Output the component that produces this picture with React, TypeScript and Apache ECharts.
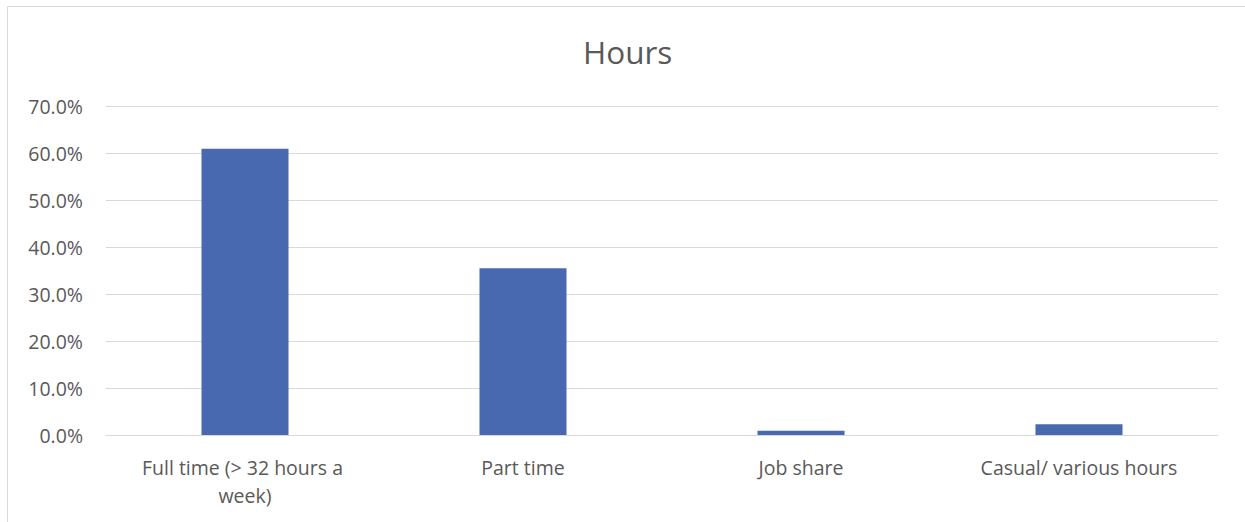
import React, { useEffect, useRef } from "react";
import * as echarts from "echarts";

const categories = ["Full time (> 32 hours a week)", "Part time", "Job share", "Casual/ various hours"];
const values = [60.9, 35.5, 0.9, 2.3];
const yTicks = { min: 0, max: 70, interval: 10 };

export default function App() {
  const ref = useRef<HTMLDivElement>(null);
  useEffect(() => {
    const chart = echarts.init(ref.current!, null, { renderer: "svg" });
    chart.setOption({
      animation: false,
      backgroundColor: "#ffffff",
      title: {
        text: "Hours",
        left: 578,
        top: 30,
        textStyle: { fontFamily: "Open Sans", fontSize: 31.5, fontWeight: "normal", color: "#595959" },
      },
      graphic: [
        {
          type: "rect",
          shape: { x: 7.5, y: 6.5, width: 1300, height: 600 },
          style: { fill: "none", stroke: "#d9d9d9", lineWidth: 1 },
          silent: true,
        },
      ],
      grid: { left: 106, right: 27, top: 106, bottom: 87 },
      xAxis: {
        type: "category",
        data: categories,
        axisLine: { lineStyle: { color: "#d9d9d9" } },
        axisTick: { show: false },
        axisLabel: {
          fontFamily: "Open Sans",
          fontSize: 19.5,
          color: "#595959",
          margin: 18,
          width: 240,
          overflow: "break",
          lineHeight: 28,
          interval: 0,
        },
      },
      yAxis: {
        type: "value",
        min: yTicks.min,
        max: yTicks.max,
        interval: yTicks.interval,
        axisLine: { show: false },
        axisTick: { show: false },
        splitLine: { lineStyle: { color: "#d9d9d9" } },
        axisLabel: {
          fontFamily: "Open Sans",
          fontSize: 19.5,
          color: "#595959",
          margin: 23,
          formatter: (v: number) => v.toFixed(1) + "%",
        },
      },
      series: [
        {
          type: "bar",
          data: values,
          barWidth: "31.3%",
          itemStyle: { color: "#4868b0" },
        },
      ],
    });
    return () => chart.dispose();
  }, []);
  return (
    <div style={{ position: "absolute", left: 0, top: 0 }}>
      <div ref={ref} style={{ width: 1245, height: 522 }} />
    </div>
  );
}
